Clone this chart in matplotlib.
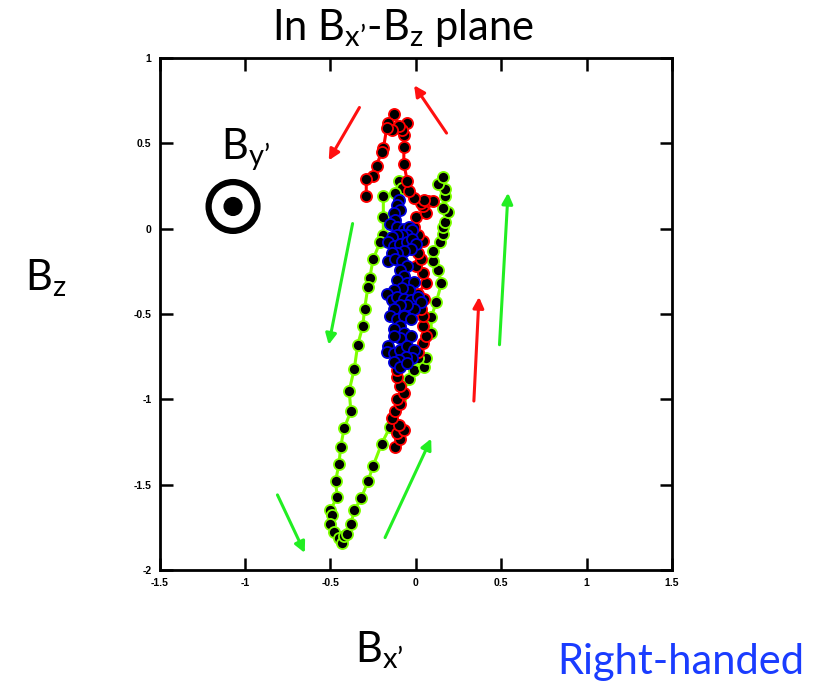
import numpy as np
import matplotlib
matplotlib.use('Agg')
import matplotlib.pyplot as plt
from matplotlib.patches import Circle

plt.rcParams['mathtext.fontset'] = 'custom'
plt.rcParams['mathtext.rm'] = 'Lato'
plt.rcParams['mathtext.it'] = 'Lato:italic'

# green trajectory (outer loop)
green_x = [-0.10, -0.08, -0.12, -0.19, -0.19, -0.19, -0.21, -0.25, -0.27, -0.28,
           -0.30, -0.31, -0.34, -0.36, -0.39, -0.38, -0.42, -0.44, -0.45, -0.47,
           -0.46, -0.50, -0.49, -0.50, -0.48, -0.45, -0.43, -0.42, -0.40, -0.38,
           -0.36, -0.32, -0.28, -0.25, -0.20, -0.15, -0.09, -0.04, -0.01, 0.05,
           0.06, 0.01, 0.09, 0.09, 0.12, 0.15, 0.13, 0.10, 0.10, 0.14,
           0.16, 0.16, 0.17, 0.19, 0.16, 0.17, 0.17, 0.13, 0.16]
green_y = [0.28, 0.24, 0.21, 0.19, 0.07, -0.04, -0.08, -0.18, -0.29, -0.34,
           -0.47, -0.57, -0.68, -0.82, -0.95, -1.07, -1.17, -1.28, -1.38, -1.48,
           -1.57, -1.65, -1.68, -1.73, -1.78, -1.81, -1.84, -1.80, -1.79, -1.73,
           -1.65, -1.58, -1.48, -1.39, -1.26, -1.16, -1.00, -0.88, -0.83, -0.81,
           -0.76, -0.76, -0.61, -0.52, -0.43, -0.32, -0.24, -0.19, -0.13, -0.08,
           -0.03, 0.01, 0.04, 0.10, 0.12, 0.19, 0.23, 0.26, 0.30]

# red trajectory
red_x = [-0.12, -0.09, -0.11, -0.07, -0.10, -0.14, -0.12, -0.09, -0.11, -0.07,
         -0.09, -0.11, -0.11, -0.05, 0.01, 0.04, 0.06, 0.04, 0.04, 0.03,
         0.05, 0.01, 0.06, 0.04, 0.00, 0.03, 0.01, 0.04, 0.01, -0.01,
         0.00, 0.06, 0.04, 0.03, 0.07, 0.10, 0.05, -0.01, -0.04, -0.05,
         -0.07, -0.07, -0.07, -0.05, -0.08, -0.10, -0.13, -0.16, -0.14, -0.17,
         -0.19, -0.20, -0.23, -0.25, -0.29, -0.29]
red_y = [-1.28, -1.23, -1.20, -1.18, -1.15, -1.11, -1.07, -1.03, -1.00, -0.96,
         -0.92, -0.87, -0.83, -0.78, -0.72, -0.67, -0.63, -0.57, -0.51, -0.47,
         -0.41, -0.38, -0.32, -0.26, -0.22, -0.18, -0.14, -0.07, -0.04, 0.01,
         0.07, 0.09, 0.13, 0.15, 0.16, 0.16, 0.17, 0.18, 0.22, 0.28,
         0.38, 0.48, 0.55, 0.62, 0.58, 0.60, 0.67, 0.62, 0.58, 0.59,
         0.47, 0.45, 0.37, 0.31, 0.29, 0.19]

# blue trajectory (central cluster)
blue_x = [-0.10, -0.11, -0.09, -0.13, -0.12, -0.15, -0.11, -0.07, -0.04, -0.02,
          -0.05, -0.08, -0.11, -0.14, -0.16, -0.13, -0.09, -0.05, -0.02, 0.00,
          -0.03, -0.07, -0.11, -0.14, -0.16, -0.12, -0.08, -0.05, -0.09, -0.07,
          -0.11, -0.05, -0.01, -0.04, -0.08, -0.13, -0.17, -0.14, -0.11, -0.07,
          -0.03, 0.01, 0.03, -0.01, -0.05, -0.09, -0.13, -0.15, -0.11, -0.07,
          -0.03, -0.09, -0.13, -0.07, -0.03, -0.09, -0.13, -0.16, -0.17, -0.13,
          -0.09, -0.05, -0.01, -0.02, -0.06, -0.10, -0.13, -0.09, -0.05]
blue_y = [0.17, 0.14, 0.11, 0.09, 0.05, 0.03, 0.01, 0.00, 0.01, -0.01,
          -0.04, -0.04, -0.04, -0.05, -0.08, -0.10, -0.09, -0.08, -0.06, -0.09,
          -0.12, -0.13, -0.14, -0.14, -0.19, -0.18, -0.19, -0.22, -0.24, -0.28,
          -0.30, -0.32, -0.31, -0.36, -0.35, -0.36, -0.38, -0.42, -0.40, -0.41,
          -0.42, -0.40, -0.43, -0.47, -0.45, -0.45, -0.47, -0.51, -0.53, -0.51,
          -0.53, -0.57, -0.59, -0.61, -0.63, -0.64, -0.63, -0.69, -0.72, -0.73,
          -0.71, -0.69, -0.71, -0.76, -0.75, -0.77, -0.78, -0.81, -0.79]

# direction arrows: (tail x, tail y, head x, head y)
green_arrows = [(-0.37, 0.03, -0.51, -0.68),
                (-0.81, -1.56, -0.65, -1.90),
                (-0.18, -1.81, 0.09, -1.23),
                (0.49, -0.68, 0.54, 0.21)]
red_arrows = [(0.34, -1.01, 0.37, -0.40),
              (0.18, 0.56, -0.01, 0.84),
              (-0.33, 0.71, -0.51, 0.40)]

xticks = [-1.5, -1, -0.5, 0, 0.5, 1, 1.5]
xticklabels = ['-1.5', '-1', '-0.5', '0', '0.5', '1', '1.5']
yticks = [-2, -1.5, -1, -0.5, 0, 0.5, 1]
yticklabels = ['-2', '-1.5', '-1', '-0.5', '0', '0.5', '1']

fig = plt.figure(figsize=(8.4, 6.88), dpi=100)
ax = fig.add_axes([0.190, 0.1715, 0.610, 0.7442])

ms = 8
ax.plot(green_x, green_y, '-o', color='#7fff00', lw=2.2, ms=ms,
        mfc='black', mec='#7fff00', mew=1.3, zorder=2)
ax.plot(red_x, red_y, '-o', color='#ff0000', lw=2.2, ms=ms,
        mfc='black', mec='#ff0000', mew=1.3, zorder=3)
ax.plot(blue_x, blue_y, '-o', color='#0000dd', lw=2.2, ms=ms,
        mfc='black', mec='#0000dd', mew=1.3, zorder=4)

for (x0, y0, x1, y1) in green_arrows:
    ax.annotate('', xy=(x1, y1), xytext=(x0, y0),
                arrowprops=dict(arrowstyle='-|>', color='#22ee22', lw=2.2,
                                mutation_scale=16, shrinkA=0, shrinkB=0))
for (x0, y0, x1, y1) in red_arrows:
    ax.annotate('', xy=(x1, y1), xytext=(x0, y0),
                arrowprops=dict(arrowstyle='-|>', color='#ff1010', lw=2.2,
                                mutation_scale=16, shrinkA=0, shrinkB=0))

# out-of-plane symbol for B_y'
ax.add_patch(Circle((-1.07, 0.13), 0.143, fill=False, lw=4.5, ec='black', zorder=5))
ax.add_patch(Circle((-1.07, 0.13), 0.052, color='black', zorder=5))

ax.set_xlim(-1.5, 1.5)
ax.set_ylim(-2, 1)
ax.set_xticks(xticks)
ax.set_xticklabels(xticklabels)
ax.set_yticks(yticks)
ax.set_yticklabels(yticklabels)
ax.tick_params(direction='in', length=9, width=1.8, top=True, right=True,
               labelsize=7.5, pad=6)
for lab in ax.get_xticklabels() + ax.get_yticklabels():
    lab.set_fontweight('bold')
    lab.set_family('Liberation Sans')
for sp in ax.spines.values():
    sp.set_linewidth(2)

fs = 30
fig.text(0.480, 0.959, "In B$_{\\mathregular{x\u2019}}$-B$_{\\mathregular{z}}$ plane",
         fontsize=fs, family='Lato', ha='center', va='center')
fig.text(0.054, 0.596, "B$_{\\mathregular{z}}$", fontsize=fs, family='Lato',
         ha='center', va='center')
fig.text(0.452, 0.055, "B$_{\\mathregular{x\u2019}}$", fontsize=fs, family='Lato',
         ha='center', va='center')
fig.text(0.292, 0.782, "B$_{\\mathregular{y\u2019}}$", fontsize=fs, family='Lato',
         ha='center', va='center')
fig.text(0.811, 0.038, "Right-handed", fontsize=fs, family='Lato', color='#1a3cff',
         ha='center', va='center')

fig.savefig('out.png', dpi=100)
